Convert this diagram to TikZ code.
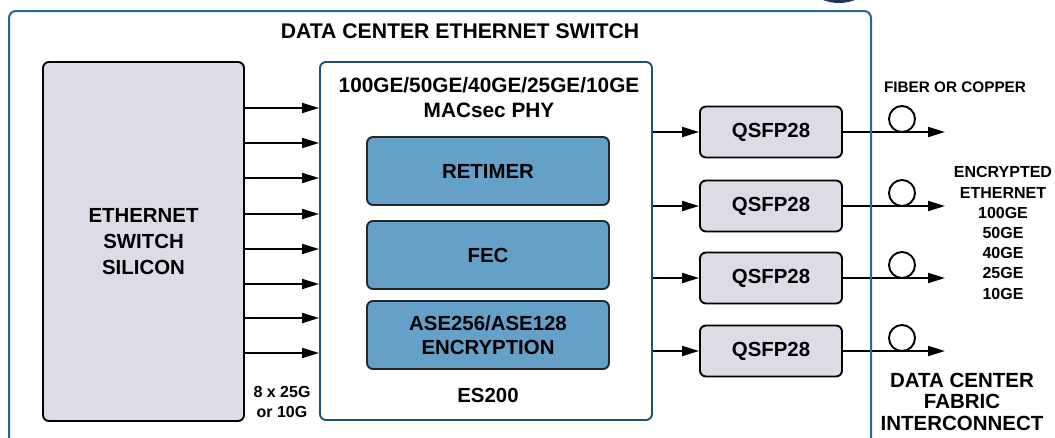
\documentclass[tikz,border=0pt]{standalone}
\usepackage{fontspec}
\setmainfont{Liberation Sans}
\usetikzlibrary{arrows.meta}
\definecolor{framec}{HTML}{1F6B96}
\definecolor{phyc}{HTML}{1D5273}
\definecolor{silgray}{HTML}{DCDCE6}
\definecolor{blk}{HTML}{64A0C8}
\definecolor{navy}{HTML}{1B3A5C}
\begin{document}
\begin{tikzpicture}[x=1pt,y=-1pt,
 txt/.style={font=\fontsize{20.4}{24}\selectfont\bfseries, align=center, inner sep=0pt},
 smalltxt/.style={font=\fontsize{16}{20.2}\selectfont\bfseries, align=center, inner sep=0pt},
 graybox/.style={draw=black, line width=1.9pt, fill=silgray, rounded corners=6pt, inner sep=0pt},
 bluebox/.style={draw=black!85, line width=1.9pt, fill=blk, rounded corners=6pt, inner sep=0pt, minimum width=242pt, minimum height=68pt, txt},
 qbox/.style={graybox, minimum width=142pt, minimum height=51pt, txt},
 arr/.style={line width=1.9pt, -{Triangle[length=17pt,width=10pt]}},
 loopc/.style={circle, line width=1.9pt, draw=black, fill=white, minimum size=26pt, inner sep=0pt}
]
\useasboundingbox (0,0) rectangle (1055,437);
\clip (0,0) rectangle (1055,437);
\fill[white] (0,0) rectangle (1055,437);
% logo fragment
\fill[navy] (839,-41) circle (44);

% title
\node[txt, font=\fontsize{21.2}{24}\selectfont\bfseries] (title) at (460,31) {DATA CENTER ETHERNET SWITCH};

% silicon
\node[graybox, minimum width=201pt, minimum height=359pt, txt, font=\fontsize{20.4}{26}\selectfont\bfseries] (sil) at (143.5,241.5) {ETHERNET\\SWITCH\\SILICON};

% PHY
\node[draw=phyc, line width=1.9pt, rounded corners=6pt, minimum width=332pt, minimum height=358pt, inner sep=0pt] (phy) at (486,241) {};
\node[txt, font=\fontsize{20.8}{25}\selectfont\bfseries] (phyt) at (489,97.5) {100GE/50GE/40GE/25GE/10GE\\MACsec PHY};
\node[bluebox] (ret) at (488,171) {RETIMER};
\node[bluebox] (fec) at (488,255) {FEC};
\node[bluebox, font=\fontsize{20.4}{24}\selectfont\bfseries] (enc) at (488,335) {ASE256/ASE128\\ENCRYPTION};
\node[txt] (es) at (488,395) {ES200};

\node[smalltxt] (lanes) at (282,402) {8 x 25G\\or 10G};

% lanes
\foreach \y in {108,143,178,214,249,284,318,353}{
  \draw[arr] (sil.east |- 0,\y) -- (phy.west |- 0,\y);
}

% QSFP
\foreach \i/\y in {1/132,2/206,3/278,4/351}{
  \node[qbox] (q\i) at (771,\y) {QSFP28};
  \draw[arr] (phy.east |- q\i.west) -- (q\i.west);
  \node[loopc] (c\i) at (902,\y-13) {};
  \coordinate (o\i) at (945,\y);
  \draw[arr] (q\i.east) -- (o\i);
}

% right labels
\node[smalltxt, font=\fontsize{15.3}{18}\selectfont\bfseries] (fib) at (955,87) {FIBER OR COPPER};
\node[smalltxt] (encl) at (1003,233) {ENCRYPTED\\ETHERNET\\100GE\\50GE\\40GE\\25GE\\10GE};
\node[txt, font=\fontsize{20.5}{21.5}\selectfont\bfseries] (dcfi) at (962,401.5) {DATA CENTER\\FABRIC\\INTERCONNECT};

% outer frame
\node[draw=framec, line width=2pt, rounded corners=7pt, minimum width=862pt, minimum height=500pt, inner sep=0pt] (sw) at (440,261) {};
\end{tikzpicture}
\end{document}
